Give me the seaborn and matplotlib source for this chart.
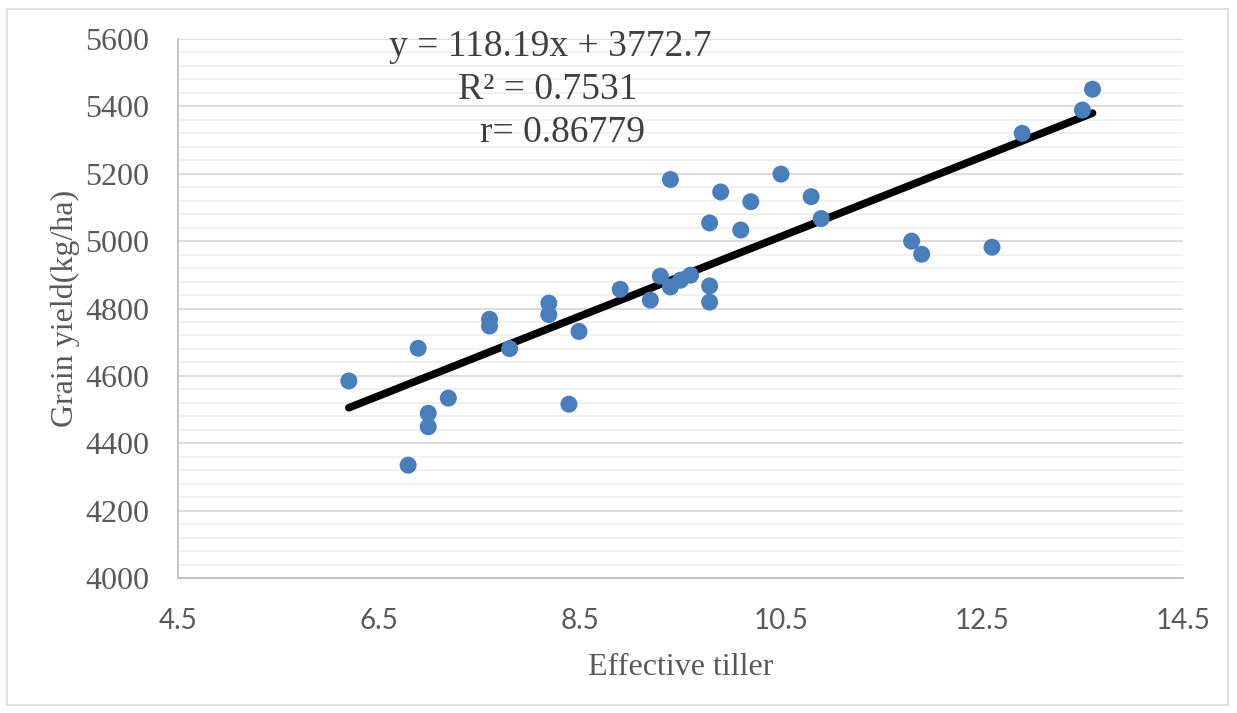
import matplotlib
matplotlib.use("Agg")
import matplotlib.pyplot as plt
import matplotlib.patches as mpatches
from matplotlib.ticker import MultipleLocator
import numpy as np
import pandas as pd
import seaborn as sns

# Data
tiller = [6.2, 6.89, 7.19, 6.99, 6.99, 6.79, 7.6, 7.6, 7.8, 8.19, 8.19, 8.49, 8.39,
          8.9, 9.2, 9.3, 9.4, 9.5, 9.6, 9.79, 9.79, 9.79, 9.4, 9.9, 10.2, 10.1,
          10.5, 10.8, 10.9, 11.8, 11.9, 12.6, 12.9, 13.5, 13.6]
yield_kg = [4585, 4682, 4534, 4489, 4449, 4335, 4768, 4748, 4681, 4816, 4782, 4732, 4516,
            4857, 4825, 4896, 4864, 4884, 4899, 4867, 4819, 5054, 5183, 5146, 5117, 5033,
            5199, 5132, 5067, 5000, 4961, 4982, 5320, 5389, 5451]
slope, intercept = 118.19, 3772.7
eq_lines = ["y = 118.19x + 3772.7", "R\u00b2 = 0.7531", "r= 0.86779"]

df = pd.DataFrame({"tiller": tiller, "yield": yield_kg})
trend = pd.DataFrame({"tiller": [min(tiller), max(tiller)]})
trend["yield"] = slope * trend["tiller"] + intercept

sns.set_style("white")
plt.rcParams["font.family"] = ["Liberation Serif", "DejaVu Serif"]

fig = plt.figure(figsize=(12.37, 7.13), dpi=100)
ax = fig.add_axes([0.1439, 0.1893, 0.8124, 0.756])

sns.lineplot(data=trend, x="tiller", y="yield", color="black", linewidth=5.5,
             solid_capstyle="round", ax=ax, zorder=3)
sns.scatterplot(data=df, x="tiller", y="yield", color="#4a7ebb", s=150,
                edgecolor="none", ax=ax, zorder=4)

ax.set_xlim(4.5, 14.5)
ax.set_ylim(4000, 5600)
ax.set_xticks(np.arange(4.5, 14.6, 2))
ax.set_yticks(np.arange(4000, 5601, 200))
ax.yaxis.set_minor_locator(MultipleLocator(40))
ax.grid(which="major", axis="y", color="#d9d9d9", linewidth=1.3)
ax.grid(which="minor", axis="y", color="#f0f0f0", linewidth=1.3)
ax.set_axisbelow(True)

for s in ["top", "right"]:
    ax.spines[s].set_visible(False)
for s in ["left", "bottom"]:
    ax.spines[s].set_color("#bfbfbf")
    ax.spines[s].set_linewidth(1.3)

ax.tick_params(axis="y", which="major", direction="out", length=6.5, width=1.2,
               color="#bfbfbf", labelsize=23, labelcolor="#595959", pad=14)
ax.tick_params(axis="x", which="major", direction="out", length=6.5, width=1.2,
               color="#bfbfbf", labelsize=20, labelcolor="#595959", pad=15)
ax.tick_params(axis="y", which="minor", length=0)
for lab in ax.get_xticklabels():
    lab.set_fontfamily(["Lato", "DejaVu Sans"])

ax.set_xlabel("Effective tiller", fontsize=23, color="#595959", labelpad=14)
ax.set_ylabel("Grain yield(kg/ha)", fontsize=23, color="#595959", labelpad=4)

ax.text(0.37, 0.985, eq_lines[0], transform=ax.transAxes, ha="center", va="center",
        fontsize=27, color="#404040")
ax.text(0.368, 0.905, eq_lines[1], transform=ax.transAxes, ha="center", va="center",
        fontsize=27, color="#404040")
ax.text(0.383, 0.827, eq_lines[2], transform=ax.transAxes, ha="center", va="center",
        fontsize=27, color="#404040")

fig.patches.append(mpatches.Rectangle((0.006, 0.011), 0.987, 0.977, transform=fig.transFigure,
                                      fill=False, edgecolor="#d9d9d9", linewidth=1.2))

fig.savefig("out.png", dpi=100)
